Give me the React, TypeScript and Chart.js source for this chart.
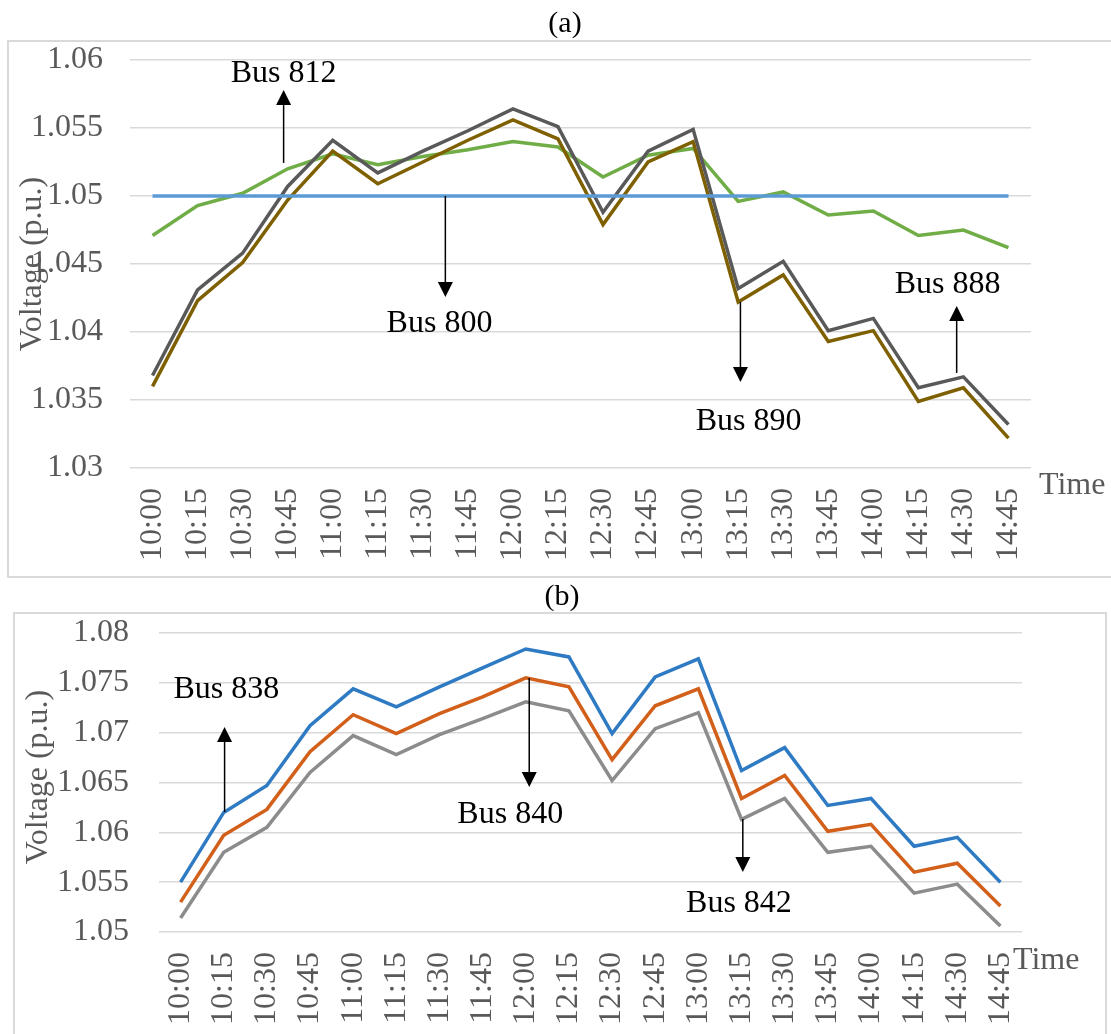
import React, { useEffect, useRef } from "react";
import { Chart, registerables } from "chart.js";

Chart.register(...registerables);

const FONT = '"Liberation Serif", "Times New Roman", Times, serif';
const GREY_TEXT = "#595959";
const FS = 32;

const timeLabels = [
  "10:00", "10:15", "10:30", "10:45", "11:00", "11:15", "11:30", "11:45", "12:00", "12:15",
  "12:30", "12:45", "13:00", "13:15", "13:30", "13:45", "14:00", "14:15", "14:30", "14:45",
];

// Chart (a)
const bus800 = [1.05, 1.05, 1.05, 1.05, 1.05, 1.05, 1.05, 1.05, 1.05, 1.05, 1.05, 1.05, 1.05, 1.05, 1.05, 1.05, 1.05, 1.05, 1.05, 1.05];
const bus812 = [1.0471, 1.0493, 1.0502, 1.0520, 1.0531, 1.0523, 1.0529, 1.0534, 1.0540, 1.0536, 1.0514, 1.0530, 1.0535, 1.0496, 1.0503, 1.0486, 1.0489, 1.0471, 1.0475, 1.0462];
const bus888 = [1.0368, 1.0431, 1.0458, 1.0507, 1.0541, 1.0517, 1.0533, 1.0548, 1.0564, 1.0551, 1.0488, 1.0533, 1.0549, 1.0432, 1.0452, 1.0401, 1.0410, 1.0359, 1.0367, 1.0332];
const bus890 = [1.0360, 1.0423, 1.0451, 1.0497, 1.0533, 1.0509, 1.0525, 1.0541, 1.0556, 1.0542, 1.0479, 1.0525, 1.0540, 1.0422, 1.0442, 1.0393, 1.0401, 1.0349, 1.0359, 1.0322];

// Chart (b)
const bus838 = [1.0550, 1.0620, 1.0647, 1.0707, 1.0744, 1.0726, 1.0746, 1.0765, 1.0784, 1.0776, 1.0699, 1.0756, 1.0774, 1.0662, 1.0685, 1.0627, 1.0634, 1.0586, 1.0595, 1.0550];
const bus840 = [1.0530, 1.0597, 1.0623, 1.0681, 1.0718, 1.0699, 1.0719, 1.0736, 1.0755, 1.0746, 1.0673, 1.0727, 1.0744, 1.0634, 1.0657, 1.0601, 1.0608, 1.0560, 1.0569, 1.0526];
const bus842 = [1.0514, 1.0580, 1.0605, 1.0660, 1.0697, 1.0678, 1.0698, 1.0714, 1.0731, 1.0722, 1.0652, 1.0704, 1.0720, 1.0613, 1.0634, 1.0580, 1.0586, 1.0539, 1.0548, 1.0506];

const yRangeA = [1.03, 1.06];
const yRangeB = [1.05, 1.08];

type Note = { text: string; tx: number; ty: number; ax: number; from: number; to: number };

const notesA: Note[] = [
  { text: "Bus 812", tx: 2.91, ty: 1.05838, ax: 2.91, from: 1.05243, to: 1.05779 },
  { text: "Bus 800", tx: 6.37, ty: 1.04, ax: 6.5, from: 1.05, to: 1.04257 },
  { text: "Bus 890", tx: 13.23, ty: 1.03279, ax: 13.05, from: 1.04221, to: 1.03632 },
  { text: "Bus 888", tx: 17.65, ty: 1.04287, ax: 17.85, from: 1.03699, to: 1.04191 },
];

const notesB: Note[] = [
  { text: "Bus 838", tx: 1.06, ty: 1.07348, ax: 1.02, from: 1.06204, to: 1.07057 },
  { text: "Bus 840", tx: 7.64, ty: 1.06094, ax: 8.08, from: 1.07549, to: 1.06455 },
  { text: "Bus 842", tx: 12.94, ty: 1.05201, ax: 13.03, from: 1.06134, to: 1.05602 },
];

type Panel = {
  top: number;
  height: number;
  title: string;
  titleX: number;
  titleY: number;
  frame: [number, number, number, number];
  areaLeft: number;
  areaTop: number;
  areaRight: number;
  xAxisHeight: number;
  yPad: number;
  yTitleX: number;
  yTitleY: number;
  timeDx: number;
  timeDy: number;
  yRange: number[];
  notes: Note[];
  datasets: any[];
};

function makeDecor(p: Panel) {
  return {
    id: "decor",
    afterDraw(chart: any) {
      const ctx = chart.ctx;
      const xs = chart.scales.x;
      const ys = chart.scales.y;
      const ca = chart.chartArea;
      ctx.save();
      ctx.strokeStyle = "#d9d9d9";
      ctx.lineWidth = 2;
      ctx.strokeRect(p.frame[0], p.frame[1], p.frame[2], p.frame[3]);

      ctx.font = `30px ${FONT}`;
      ctx.fillStyle = "#000";
      ctx.textAlign = "center";
      ctx.textBaseline = "middle";
      ctx.fillText(p.title, p.titleX, p.titleY);

      ctx.font = `${FS}px ${FONT}`;
      ctx.save();
      ctx.translate(p.yTitleX, p.yTitleY);
      ctx.rotate(-Math.PI / 2);
      ctx.fillStyle = GREY_TEXT;
      ctx.fillText("Voltage (p.u.)", 0, 0);
      ctx.restore();

      ctx.fillStyle = GREY_TEXT;
      ctx.textAlign = "left";
      ctx.fillText("Time", ca.right + p.timeDx, ca.bottom + p.timeDy);

      ctx.fillStyle = "#000";
      ctx.strokeStyle = "#000";
      ctx.textAlign = "center";
      ctx.textBaseline = "alphabetic";
      for (const n of p.notes) {
        ctx.fillText(n.text, xs.getPixelForValue(n.tx), ys.getPixelForValue(n.ty));
        const x = xs.getPixelForValue(n.ax);
        const y0 = ys.getPixelForValue(n.from);
        const y1 = ys.getPixelForValue(n.to);
        const dir = y1 > y0 ? 1 : -1;
        const head = 15;
        ctx.lineWidth = 1.5;
        ctx.beginPath();
        ctx.moveTo(x, y0);
        ctx.lineTo(x, y1 - dir * head);
        ctx.stroke();
        ctx.beginPath();
        ctx.moveTo(x, y1);
        ctx.lineTo(x - 7.5, y1 - dir * head);
        ctx.lineTo(x + 7.5, y1 - dir * head);
        ctx.closePath();
        ctx.fill();
      }
      ctx.restore();
    },
  };
}

function ChartPanel({ p }: { p: Panel }) {
  const ref = useRef<HTMLCanvasElement | null>(null);
  useEffect(() => {
    if (!ref.current) return;
    const chart = new Chart(ref.current, {
      type: "line",
      data: { labels: timeLabels, datasets: p.datasets },
      options: {
        responsive: false,
        animation: false,
        layout: { padding: { left: 0, top: p.areaTop, right: 1111 - p.areaRight, bottom: 0 } },
        plugins: { legend: { display: false }, tooltip: { enabled: false }, title: { display: false } },
        elements: { point: { radius: 0 }, line: { tension: 0 } },
        scales: {
          x: {
            type: "category",
            offset: true,
            grid: { display: false, drawTicks: false },
            border: { display: false },
            ticks: {
              autoSkip: false,
              minRotation: 90,
              maxRotation: 90,
              padding: 20,
              color: GREY_TEXT,
              font: { family: FONT, size: FS },
            },
            afterFit(scale: any) {
              scale.height = p.xAxisHeight;
            },
          },
          y: {
            min: p.yRange[0],
            max: p.yRange[1],
            grid: { color: "#d9d9d9", lineWidth: 1.5, drawTicks: false },
            border: { display: false },
            ticks: {
              stepSize: 0.005,
              padding: p.yPad,
              color: GREY_TEXT,
              font: { family: FONT, size: FS },
              callback: (v: any) => String(Number(Number(v).toFixed(3))),
            },
            afterFit(scale: any) {
              scale.width = p.areaLeft;
            },
          },
        },
      },
      plugins: [makeDecor(p)],
    } as any);
    return () => chart.destroy();
  }, [p]);
  return (
    <canvas
      ref={ref}
      width={1111}
      height={p.height}
      style={{ position: "absolute", left: 0, top: p.top, width: 1111, height: p.height }}
    />
  );
}

const line = (data: number[], color: string) => ({
  data,
  borderColor: color,
  backgroundColor: color,
  borderWidth: 3.5,
  fill: false,
  pointRadius: 0,
});

const panelA: Panel = {
  top: 0,
  height: 580,
  title: "(a)",
  titleX: 565,
  titleY: 24,
  frame: [8, 41, 1106, 536],
  areaLeft: 130,
  areaTop: 60,
  areaRight: 1031,
  xAxisHeight: 112,
  yPad: 27,
  yTitleX: 33,
  yTitleY: 264,
  timeDx: 8,
  timeDy: 18,
  yRange: yRangeA,
  notes: notesA,
  datasets: [
    line(bus800, "#5B9BD5"),
    line(bus888, "#595959"),
    line(bus890, "#7F6000"),
    line(bus812, "#70AD47"),
  ],
};

const panelB: Panel = {
  top: 580,
  height: 454,
  title: "(b)",
  titleX: 562,
  titleY: 17,
  frame: [14, 33, 1092, 440],
  areaLeft: 159,
  areaTop: 53,
  areaRight: 1022,
  xAxisHeight: 102,
  yPad: 30,
  yTitleX: 39,
  yTitleY: 197,
  timeDx: -9,
  timeDy: 29,
  yRange: yRangeB,
  notes: notesB,
  datasets: [
    line(bus838, "#2E7BC4"),
    line(bus840, "#D2601A"),
    line(bus842, "#8C8C8C"),
  ],
};

export default function App() {
  return (
    <div style={{ position: "absolute", left: 0, top: 0, width: 1111, height: 1034, background: "#fff", overflow: "hidden" }}>
      <ChartPanel p={panelA} />
      <ChartPanel p={panelB} />
    </div>
  );
}
